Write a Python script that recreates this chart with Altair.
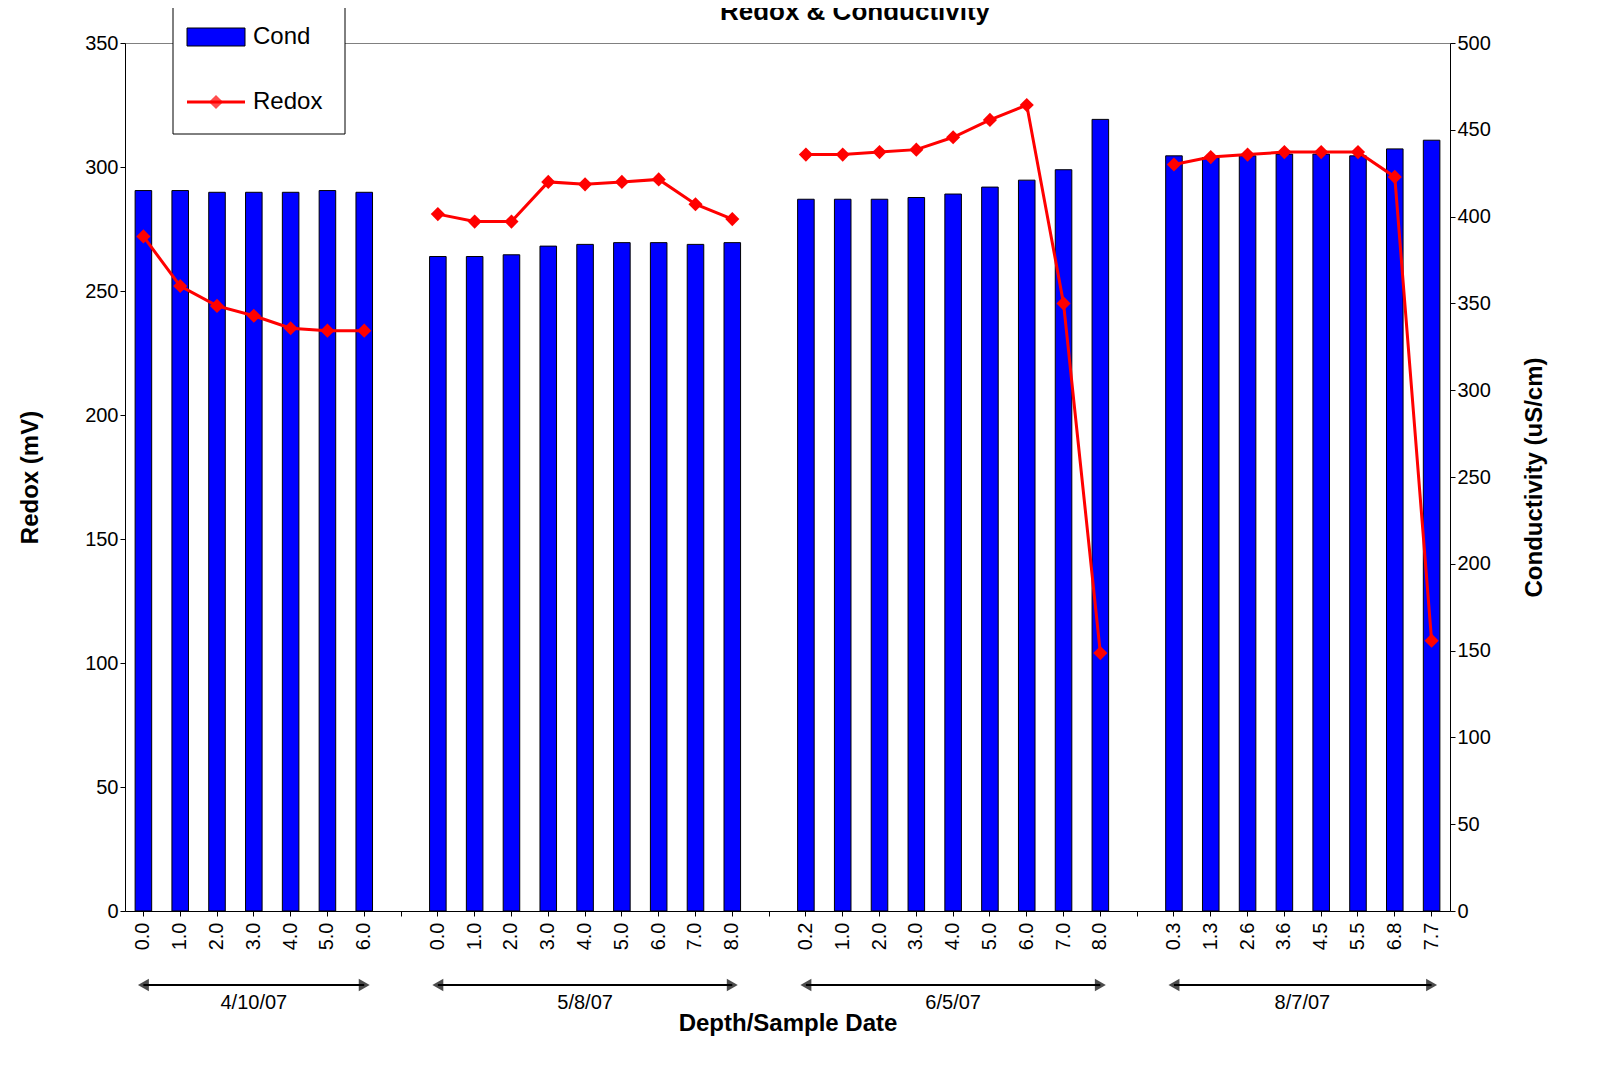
import altair as alt
import pandas as pd

dates = ["4/10/07", "5/8/07", "6/5/07", "8/7/07"]
depths = [
    ["0.0", "1.0", "2.0", "3.0", "4.0", "5.0", "6.0"],
    ["0.0", "1.0", "2.0", "3.0", "4.0", "5.0", "6.0", "7.0", "8.0"],
    ["0.2", "1.0", "2.0", "3.0", "4.0", "5.0", "6.0", "7.0", "8.0"],
    ["0.3", "1.3", "2.6", "3.6", "4.5", "5.5", "6.8", "7.7"],
]
cond = [
    [415, 415, 414, 414, 414, 415, 414],
    [377, 377, 378, 383, 384, 385, 385, 384, 385],
    [410, 410, 410, 411, 413, 417, 421, 427, 456],
    [435, 434, 435, 436, 436, 435, 439, 444],
]
redox = [
    [272, 252, 244, 240, 235, 234, 234],
    [281, 278, 278, 294, 293, 294, 295, 285, 279],
    [305, 305, 306, 307, 312, 319, 325, 245, 104],
    [301, 304, 305, 306, 306, 306, 296, 109],
]

rows, domain, spans = [], [], []
for g, (d, ds) in enumerate(zip(dates, depths)):
    keys = []
    for i, dep in enumerate(ds):
        k = f"{g}_{i}|{dep}"
        keys.append(k)
        rows.append({"slot": k, "date": d, "cond": cond[g][i], "redox": redox[g][i]})
    domain += keys
    n = len(keys)
    spans.append({"a": keys[0], "b": keys[-1], "mid": keys[n // 2] if n % 2 else keys[n // 2 - 1],
                  "date": d, "odd": n % 2})
    if g < 3:
        domain.append(f"gap{g}")
df = pd.DataFrame(rows)

W, H = 1325, 868
xs = alt.Scale(domain=domain, paddingInner=0.55, paddingOuter=0.275)
xaxis = alt.Axis(title="Depth/Sample Date", titleFontSize=24, titleFontWeight="bold", titlePadding=62,
                 labelExpr="indexof(datum.value,'|')>=0 ? split(datum.value,'|')[1] : ''",
                 labelAngle=270, labelFontSize=20, labelColor="black", labelPadding=6,
                 ticks=True, tickColor="black", domainColor="black", grid=False)
X = alt.X("slot:N", scale=xs, axis=xaxis, sort=domain)

base = alt.Chart(df)
bars = base.mark_bar(color="#0000FF", stroke="black", strokeWidth=1).encode(
    x=X,
    y=alt.Y("cond:Q", scale=alt.Scale(domain=[0, 500]),
            axis=alt.Axis(orient="right", title="Conductivity (uS/cm)", values=list(range(0, 501, 50)),
                          titleFontSize=24, titleFontWeight="bold", labelFontSize=20, labelColor="black",
                          tickColor="black", domainColor="black", grid=False, titleAngle=270,
                          titlePadding=56)),
)
line = base.mark_line(color="#FF0000", strokeWidth=3,
                      point=alt.OverlayMarkDef(shape="diamond", size=200, color="#FF0000", filled=True)).encode(
    x=X,
    y=alt.Y("redox:Q", scale=alt.Scale(domain=[0, 350]),
            axis=alt.Axis(orient="left", title="Redox (mV)", values=list(range(0, 351, 50)),
                          titleFontSize=24, titleFontWeight="bold", labelFontSize=20, labelColor="black",
                          tickColor="black", domainColor="black", gridColor="#808080", titlePadding=42)),
    detail="date:N",
)

sp = alt.Chart(pd.DataFrame(spans))
XA = alt.X("a:N", scale=xs, sort=domain)
arrow = sp.mark_rule(color="black", strokeWidth=2).encode(x=XA, x2="b:N", y=alt.value(H + 74))
headL = sp.mark_point(shape="triangle-left", filled=True, color="black", size=160).encode(
    x=XA, y=alt.value(H + 74))
headR = sp.mark_point(shape="triangle-right", filled=True, color="black", size=160).encode(
    x=alt.X("b:N", scale=xs, sort=domain), y=alt.value(H + 74))
dlab_odd = sp.transform_filter("datum.odd == 1").mark_text(fontSize=20, baseline="middle").encode(
    x=alt.X("mid:N", scale=xs, sort=domain), y=alt.value(H + 92), text="date:N")
dlab_even = sp.transform_filter("datum.odd == 0").mark_text(fontSize=20, baseline="middle", dx=18).encode(
    x=alt.X("mid:N", scale=xs, sort=domain), y=alt.value(H + 92), text="date:N")

one = alt.Chart(alt.Data(values=[{}]))
title = one.mark_text(text="Redox & Conductivity", fontSize=26, fontWeight="bold", baseline="bottom").encode(
    x=alt.value(730), y=alt.value(-18))
lg_box = one.mark_rect(fill="white", stroke="black").encode(
    x=alt.value(48), x2=alt.value(220), y=alt.value(-38), y2=alt.value(91))
lg_sw = one.mark_rect(fill="#0000FF", stroke="black").encode(
    x=alt.value(62), x2=alt.value(120), y=alt.value(-15), y2=alt.value(3))
lg_ln = one.mark_rule(color="#FF0000", strokeWidth=3).encode(
    x=alt.value(62), x2=alt.value(120), y=alt.value(59))
lg_pt = one.mark_point(shape="diamond", filled=True, color="#FF0000", size=200).encode(
    x=alt.value(91), y=alt.value(59))
lg_t1 = one.mark_text(text="Cond", fontSize=24, align="left").encode(x=alt.value(128), y=alt.value(-6))
lg_t2 = one.mark_text(text="Redox", fontSize=24, align="left").encode(x=alt.value(128), y=alt.value(59))

chart = alt.layer(bars, line, arrow, headL, headR, dlab_odd, dlab_even, title,
                  lg_box, lg_sw, lg_ln, lg_pt, lg_t1, lg_t2).resolve_scale(y="independent").properties(
    width=W, height=H,
    autosize=alt.AutoSizeParams(type="none"),
    padding={"left": 117, "top": 35, "right": 120, "bottom": 145},
).configure(font="Liberation Sans").configure_view(stroke="#808080")

chart.save("out.html", embed_options={"renderer": "svg", "actions": False})
